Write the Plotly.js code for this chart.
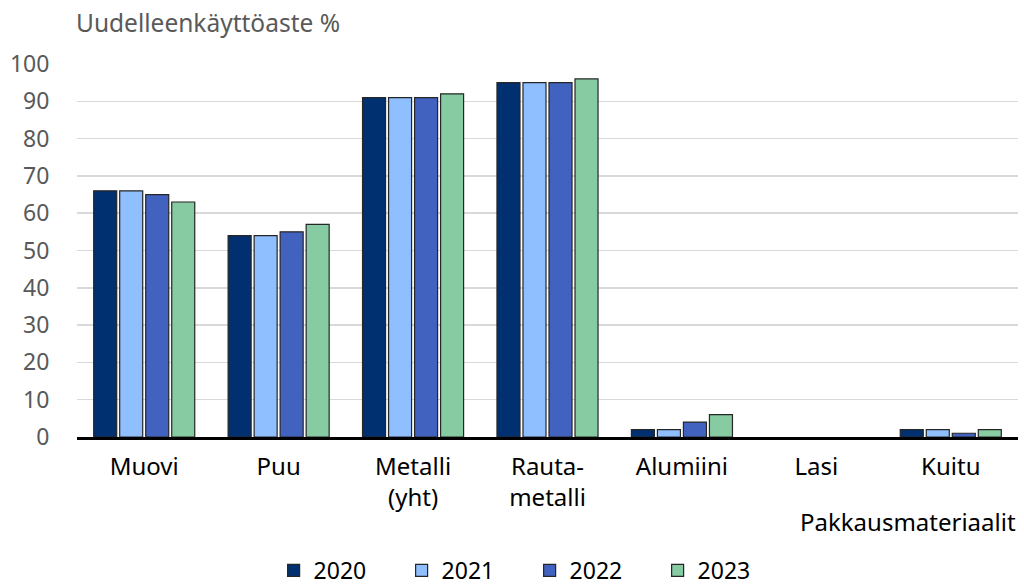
<!DOCTYPE html>
<html>
<head>
<meta charset="utf-8">
<script src="https://cdn.plot.ly/plotly-3.0.1.min.js"></script>
<style>
  html, body { margin: 0; padding: 0; background: #ffffff; }
  #chart { width: 1024px; height: 586px; }
</style>
</head>
<body>
<div id="chart"></div>
<script>
// Packaging material categories
const categories = ["Muovi", "Puu", "Metalli<br>(yht)", "Rauta-<br>metalli", "Alumiini", "Lasi", "Kuitu"];
const years = ["2020", "2021", "2022", "2023"];

// Reuse rate (%) per year
const values2020 = [66, 54, 91, 95, 2, 0, 2];
const values2021 = [66, 54, 91, 95, 2, 0, 2];
const values2022 = [65, 55, 91, 95, 4, 0, 1];
const values2023 = [63, 57, 92, 96, 6, 0, 2];

const series = [values2020, values2021, values2022, values2023];
const colors = ["#003070", "#8fbfff", "#4262c0", "#86cba1"];

const FONT = "Noto Sans, Open Sans, sans-serif";

// Zero-valued bars get no outline so nothing is drawn for them
const traces = series.map((vals, i) => ({
  type: "bar",
  name: years[i],
  x: categories,
  y: vals,
  marker: {
    color: colors[i],
    line: { color: "#262626", width: vals.map(v => (v === 0 ? 0 : 1.2)) }
  },
  hoverinfo: "x+y+name"
}));

const layout = {
  width: 1024,
  height: 586,
  margin: { l: 77, r: 6, t: 64, b: 149, autoexpand: false },
  paper_bgcolor: "#ffffff",
  plot_bgcolor: "#ffffff",
  barmode: "group",
  bargap: 0.226,
  bargroupgap: 0.115,
  font: { family: FONT, size: 24, color: "#000000" },
  xaxis: {
    type: "category",
    showline: true,
    linecolor: "#000000",
    linewidth: 3,
    ticks: "outside",
    ticklen: 6,
    tickcolor: "rgba(0,0,0,0)",
    tickfont: { family: FONT, size: 24, color: "#000000" },
    showgrid: false,
    zeroline: false,
    fixedrange: true
  },
  yaxis: {
    range: [0, 100],
    dtick: 10,
    showgrid: true,
    gridcolor: "#d9d9d9",
    gridwidth: 1.5,
    zeroline: false,
    showline: false,
    ticks: "outside",
    ticklen: 22,
    tickcolor: "rgba(0,0,0,0)",
    tickfont: { family: FONT, size: 23, color: "#595959" },
    fixedrange: true
  },
  showlegend: true,
  legend: {
    orientation: "h",
    x: 0.481,
    xanchor: "center",
    y: -0.3,
    yanchor: "top",
    font: { family: FONT, size: 23, color: "#000000" },
    entrywidth: 83,
    entrywidthmode: "pixels",
    itemwidth: 30,
    tracegroupgap: 0,
    traceorder: "normal"
  },
  annotations: [
    {
      text: "Uudelleenkäyttöaste %",
      xref: "paper", yref: "paper",
      x: -0.003, y: 1.0,
      xanchor: "left", yanchor: "middle",
      yshift: 42,
      showarrow: false,
      font: { family: FONT, size: 24.5, color: "#595959" }
    },
    {
      text: "Pakkausmateriaalit",
      xref: "paper", yref: "paper",
      x: 1.0, y: 0,
      xanchor: "right", yanchor: "middle",
      yshift: -84,
      showarrow: false,
      font: { family: FONT, size: 24, color: "#000000" }
    }
  ]
};

Plotly.newPlot("chart", traces, layout, { displayModeBar: false, staticPlot: true });
</script>
</body>
</html>
